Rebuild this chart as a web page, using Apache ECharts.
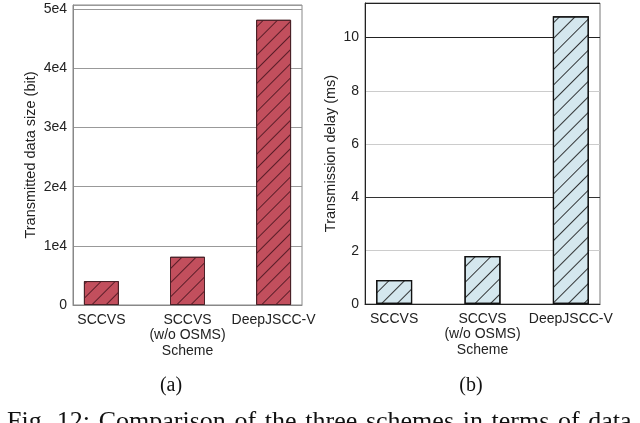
<!DOCTYPE html>
<html>
<head>
<meta charset="utf-8">
<script src="https://cdn.jsdelivr.net/npm/echarts@6/dist/echarts.min.js"></script>
<style>
  html, body { margin: 0; padding: 0; background: #fff; }
  #chart { width: 640px; height: 423px; }
</style>
</head>
<body>
<div id="chart"></div>
<script>
const schemes = ['SCCVS', 'SCCVS\n(w/o OSMS)', 'DeepJSCC-V'];
const dataSize = [4050, 8150, 48200];      // bit
const delay = [0.9, 1.8, 10.8];            // ms
const sizeTicks = ['0', '1e4', '2e4', '3e4', '4e4', '5e4'];
const caption = 'Fig. 12: Comparison of the three schemes in terms of data';

const FONT = '"Liberation Sans", Arial, sans-serif';
const SERIF = '"Liberation Serif", "Times New Roman", serif';
const TXT = '#222';

const xPos = [0, 1, 2];

function xAxisFor(gridIndex, lineColor) {
    return {
        type: 'value',
        gridIndex,
        min: -0.33,
        max: 2.33,
        name: 'Scheme',
        nameLocation: 'middle',
        nameGap: 39,
        nameMoveOverlap: false,
        nameTextStyle: { color: TXT, fontSize: 14, fontFamily: FONT },
        splitLine: { show: false },
        axisLine: { onZero: false, lineStyle: { color: lineColor, width: 1 } },
        axisTick: { show: false },
        axisLabel: {
            customValues: xPos,
            color: TXT, fontSize: 14, fontFamily: FONT, lineHeight: 15, margin: 8,
            formatter: v => schemes[Math.round(v)] ?? ''
        }
    };
}

const option = {
    backgroundColor: '#fff',
    animation: false,
    title: [
        { text: '(a)', left: 166, top: 371, textAlign: 'center',
          textStyle: { fontFamily: SERIF, fontSize: 20, fontWeight: 'normal', color: '#111' } },
        { text: '(b)', left: 466, top: 371, textAlign: 'center',
          textStyle: { fontFamily: SERIF, fontSize: 20, fontWeight: 'normal', color: '#111' } },
        // justified caption in the paper: slightly wider word gaps
        { text: caption.split(' ').join(' \u200A'), left: 2, top: 404,
          textStyle: { fontFamily: SERIF, fontSize: 26, fontWeight: 'normal', color: '#111' } }
    ],
    grid: [
        { left: 73, top: 5, width: 229, height: 300, show: true, borderColor: '#888', borderWidth: 1 },
        { left: 365, top: 3, width: 235, height: 301, show: true, borderColor: '#777', borderWidth: 1 }
    ],
    xAxis: [xAxisFor(0, '#888'), xAxisFor(1, '#222')],
    yAxis: [
        {
            type: 'value', gridIndex: 0, min: 0, max: 50700, interval: 10000,
            name: 'Transmitted data size (bit)', nameLocation: 'middle', nameGap: 35,
            nameTextStyle: { color: TXT, fontSize: 14.5, fontFamily: FONT },
            axisLine: { show: true, onZero: false, lineStyle: { color: '#888' } },
            axisTick: { show: false },
            splitLine: { lineStyle: { color: '#999', width: 1 } },
            axisLabel: {
                color: TXT, fontSize: 14, fontFamily: FONT, margin: 6, showMaxLabel: false,
                formatter: v => sizeTicks[Math.round(v / 10000)] ?? ''
            }
        },
        {
            type: 'value', gridIndex: 1, min: 0, max: 11.3, interval: 2,
            name: 'Transmission delay (ms)', nameLocation: 'middle', nameGap: 27,
            nameTextStyle: { color: TXT, fontSize: 14.5, fontFamily: FONT },
            axisLine: { show: true, onZero: false, lineStyle: { color: '#222' } },
            axisTick: { show: false },
            splitLine: { lineStyle: { color: ['#222', '#ccc', '#333', '#ccc', '#ccc', '#222'], width: 1 } },
            axisLabel: { color: TXT, fontSize: 14, fontFamily: FONT, margin: 6, showMaxLabel: false }
        }
    ],
    series: [
        {
            type: 'bar', xAxisIndex: 0, yAxisIndex: 0, barWidth: 35,
            data: xPos.map((x, i) => [x, dataSize[i]]),
            itemStyle: {
                color: '#c24f5d', borderColor: '#4a2228', borderWidth: 1,
                decal: {
                    symbol: 'rect', color: 'rgba(70,20,30,0.85)',
                    dashArrayX: [1, 0], dashArrayY: [1, 9], rotation: -Math.PI / 4
                }
            }
        },
        {
            type: 'bar', xAxisIndex: 1, yAxisIndex: 1, barWidth: 36,
            data: xPos.map((x, i) => [x, delay[i]]),
            itemStyle: {
                color: '#d4e7ee', borderColor: '#111', borderWidth: 1.2,
                decal: {
                    symbol: 'rect', color: 'rgba(20,20,20,0.85)',
                    dashArrayX: [1, 0], dashArrayY: [1, 10], rotation: -Math.PI / 4
                }
            }
        }
    ]
};

const chart = echarts.init(document.getElementById('chart'));
chart.setOption(option);
</script>
</body>
</html>
